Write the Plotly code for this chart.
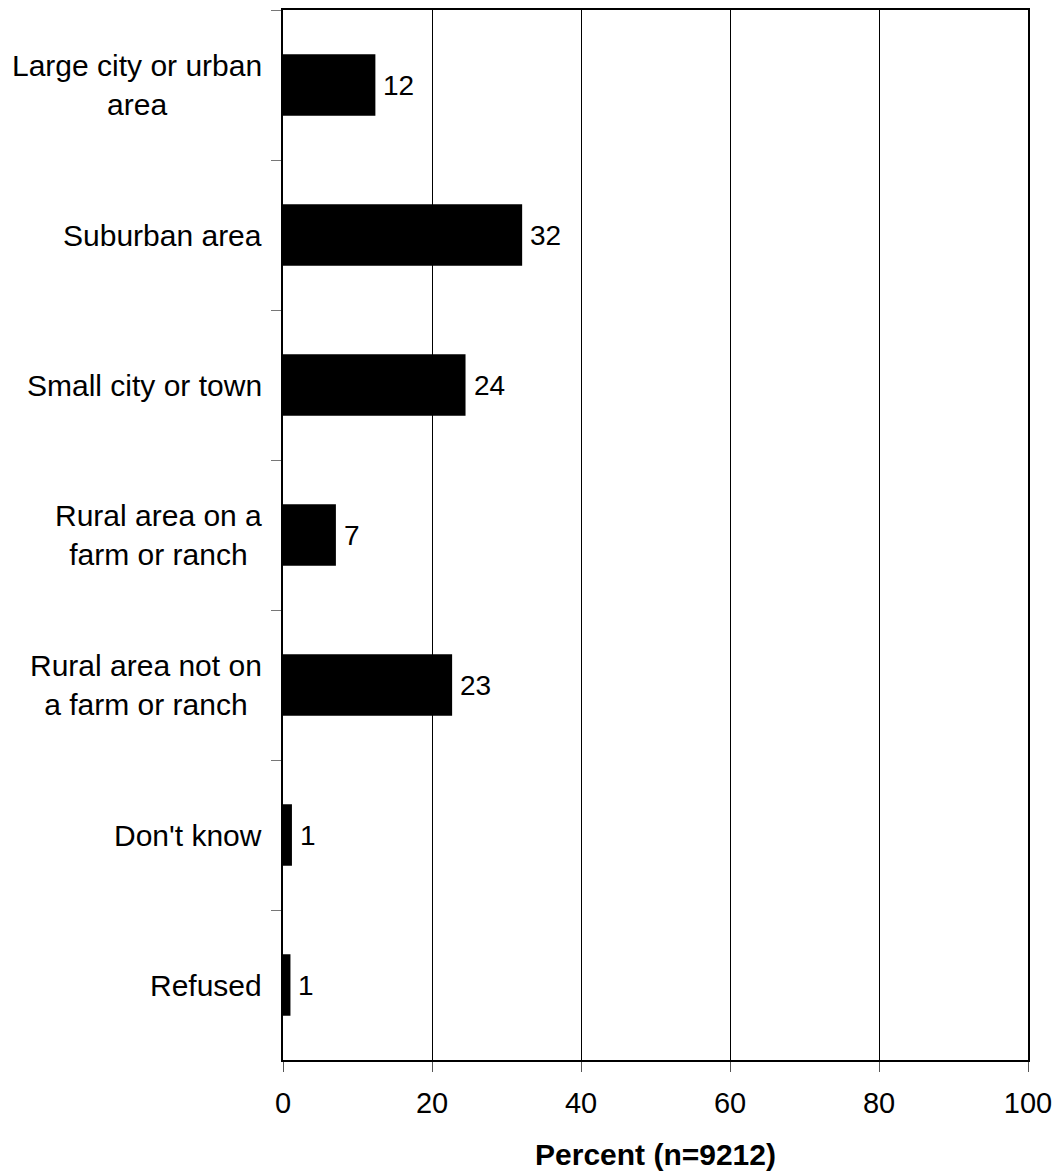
import plotly.graph_objects as go

categories = [
    "Large city or urban<br>area",
    "Suburban area",
    "Small city or town",
    "Rural area on a<br>farm or ranch",
    "Rural area not on<br>a farm or ranch",
    "Don't know",
    "Refused",
]
values = [12.4, 32.1, 24.5, 7.1, 22.7, 1.2, 1.0]
value_labels = ["12", "32", "24", "7", "23", "1", "1"]
x_ticks = [0, 20, 40, 60, 80, 100]

FONT = "Liberation Sans, Arial, sans-serif"

fig = go.Figure()
fig.add_trace(go.Bar(
    y=categories,
    x=values,
    orientation="h",
    marker=dict(color="black", line=dict(width=0)),
    width=0.41,
    hoverinfo="skip",
))

annotations = []
for c, v, t in zip(categories, values, value_labels):
    annotations.append(dict(
        x=v, y=c, xref="x", yref="y", text=t, showarrow=False,
        xanchor="left", yanchor="middle", xshift=6,
        font=dict(family=FONT, size=28, color="black"),
    ))
    annotations.append(dict(
        x=0, y=c, xref="paper", yref="y", text=c, showarrow=False,
        xanchor="right", yanchor="middle", xshift=-19, align="center",
        font=dict(family=FONT, size=30, color="black"),
    ))

fig.update_layout(
    width=1058,
    height=1171,
    margin=dict(l=283, r=30, t=10, b=111),
    paper_bgcolor="white",
    plot_bgcolor="white",
    showlegend=False,
    annotations=annotations,
    xaxis=dict(
        range=[0, 100],
        tickvals=x_ticks,
        ticktext=[str(v) for v in x_ticks],
        showgrid=True,
        gridcolor="black",
        gridwidth=1,
        zeroline=False,
        showline=True,
        linecolor="black",
        linewidth=2,
        mirror=True,
        ticks="outside",
        ticklen=10,
        tickcolor="#555555",
        tickwidth=1,
        ticklabelstandoff=6,
        ticklabeloverflow="allow",
        automargin=False,
        tickfont=dict(family=FONT, size=29, color="black"),
        title=dict(text="<b>Percent (n=9212)</b>",
                   font=dict(family=FONT, size=30, color="black"),
                   standoff=28),
        fixedrange=True,
    ),
    yaxis=dict(
        autorange="reversed",
        showticklabels=False,
        ticks="outside",
        tickson="boundaries",
        ticklen=10,
        tickcolor="#777777",
        tickwidth=1,
        showgrid=False,
        showline=True,
        linecolor="black",
        linewidth=2,
        mirror=True,
        automargin=False,
        fixedrange=True,
    ),
)

fig.write_html(
    "out.html",
    config={"displayModeBar": False},
    post_script="document.body.style.margin='0';document.body.style.overflow='hidden';",
)
